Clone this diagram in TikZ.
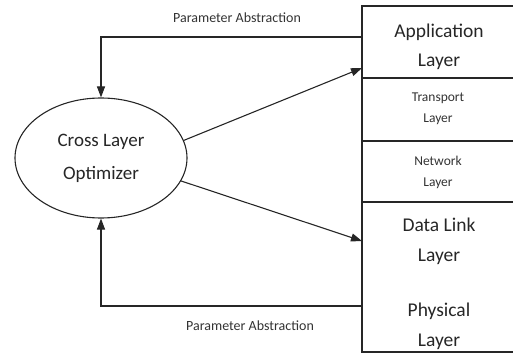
\documentclass[tikz,border=0pt]{standalone}
\usepackage{fontspec}
\setmainfont{Carlito}
\usetikzlibrary{arrows.meta, shapes.geometric, positioning}

\begin{document}
\begin{tikzpicture}[x=1pt, y=-1pt,
    bigtxt/.style={align=center, text=black!85, font=\fontsize{19.5}{29}\selectfont},
    smalltxt/.style={align=center, text=black!80, font=\fontsize{13.5}{21}\selectfont},
    labeltxt/.style={text=black!80, font=\fontsize{14}{16}\selectfont},
    link/.style={draw=black!85, line width=1.1pt},
    tip/.style={-{Triangle[length=11pt, width=8pt]}}]
    \useasboundingbox (0,0) rectangle (513,355);

    % Protocol stack (open on the right side)
    \draw[link] (513,6) -- (362,6) -- (362,352) -- (513,352);
    \foreach \y in {78,141,202} {
        \draw[link] (362,\y) -- (513,\y);
    }
    \node[bigtxt] (app) at (439,47) {Application\\Layer};
    \node[smalltxt] (trans) at (438,109) {Transport\\Layer};
    \node[smalltxt] (net) at (438,172) {Network\\Layer};
    \node[bigtxt, font=\fontsize{19.5}{30}\selectfont] (dlink) at (439,241) {Data Link\\Layer};
    \node[bigtxt, font=\fontsize{19.5}{30}\selectfont] (phy) at (439,326) {Physical\\Layer};

    % Optimizer
    \node[ellipse, draw=black!85, line width=1.1pt, minimum width=172pt, minimum height=120pt,
          bigtxt, font=\fontsize{19}{33}\selectfont] (opt) at (101,158) {Cross Layer\\Optimizer};

    % Entry points on the stack
    \coordinate (appin) at (362,68);
    \coordinate (dlin) at (362,241);
    \coordinate (appout) at (362,37);
    \coordinate (phyout) at (362,306);

    % Optimizer to layers
    \draw[link, tip] (opt.12) -- (appin);
    \draw[link, tip] (opt.-16) -- (dlin);

    % Feedback from layers
    \draw[link, tip] (appout) -| (opt.north);
    \draw[link, tip] (phyout) -| (opt.south);
    \node[labeltxt] (topnote) at (237,18) {Parameter Abstraction};
    \node[labeltxt] (botnote) at (250,326) {Parameter Abstraction};
\end{tikzpicture}
\end{document}
